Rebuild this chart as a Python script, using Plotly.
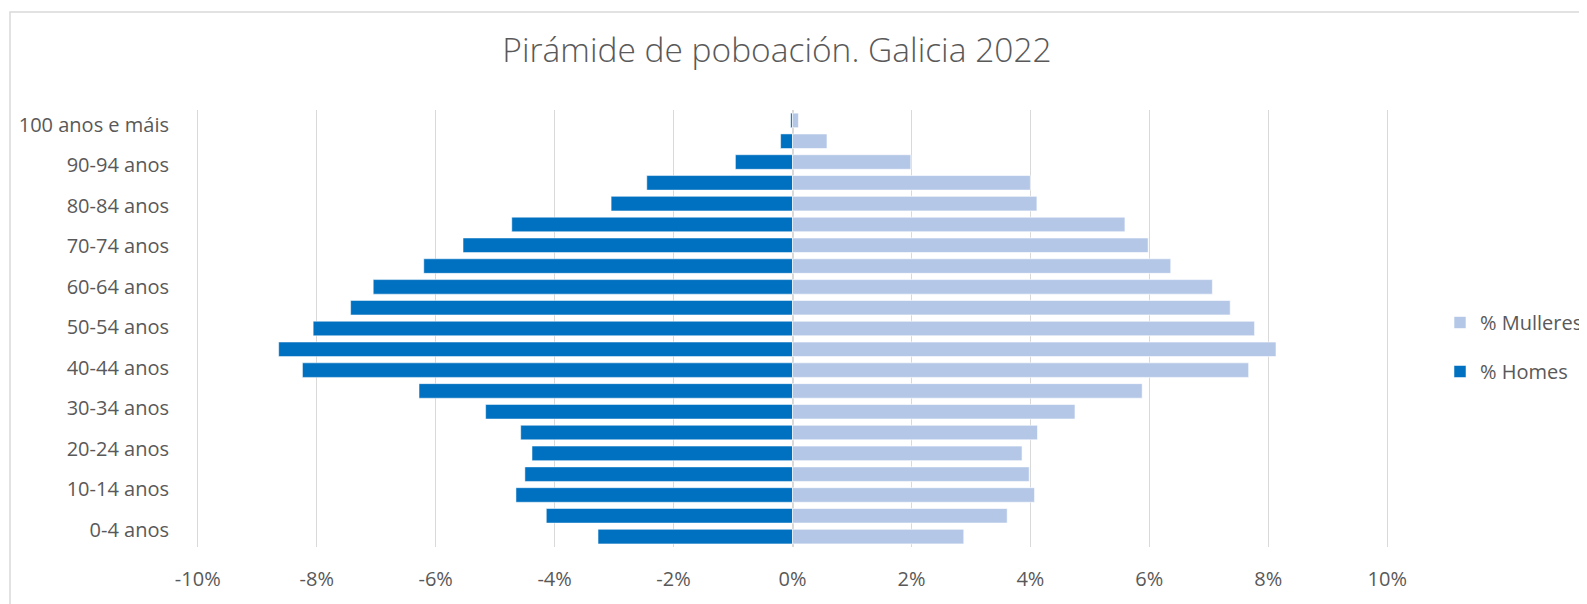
import plotly.graph_objects as go

# Grupos de idade (de abaixo cara arriba)
idades = ["0-4 anos", "5-9 anos", "10-14 anos", "15-19 anos", "20-24 anos",
          "25-29 anos", "30-34 anos", "35-39 anos", "40-44 anos", "45-49 anos",
          "50-54 anos", "55-59 anos", "60-64 anos", "65-69 anos", "70-74 anos",
          "75-79 anos", "80-84 anos", "85-89 anos", "90-94 anos", "95-99 anos",
          "100 anos e máis"]

# % sobre o total de cada sexo
homes = [3.27, 4.14, 4.65, 4.50, 4.38, 4.57, 5.16, 6.28, 8.24, 8.64, 8.06,
         7.43, 7.05, 6.20, 5.54, 4.72, 3.05, 2.45, 0.96, 0.20, 0.03]
mulleres = [2.88, 3.61, 4.07, 3.98, 3.86, 4.12, 4.75, 5.88, 7.67, 8.13, 7.77,
            7.36, 7.06, 6.36, 5.98, 5.59, 4.11, 4.00, 1.99, 0.58, 0.10]

ticks_x = [-10, -8, -6, -4, -2, 0, 2, 4, 6, 8, 10]
etiquetas_x = [f"{v}%" for v in ticks_x]

GRIS = "#595959"
GRELLA = "#d9d9d9"
FONTE = "Open Sans"

# o body da páxina engade 8px de marxe; compénsase aquí
OFF = 8
W, H = 1587, 604
L, R, T, B = 196 - OFF, W - (1389 - OFF), 110 - OFF, H - (547 - OFF)
PW, PH = W - L - R, H - T - B

fig = go.Figure()

fig.add_trace(go.Bar(
    y=idades,
    x=[-v for v in homes],
    orientation="h",
    name="% Homes",
    legendrank=2,
    legendgroup="h",
    marker=dict(color="#0070C0", line=dict(color="rgba(255,255,255,0.5)", width=1)),
    customdata=homes,
    hovertemplate="%{y}: %{customdata}%<extra>% Homes</extra>",
))
fig.add_trace(go.Bar(
    y=idades,
    x=mulleres,
    orientation="h",
    name="% Mulleres",
    legendrank=1,
    legendgroup="m",
    marker=dict(color="#B4C7E7", line=dict(color="rgba(255,255,255,0.6)", width=1)),
    hovertemplate="%{y}: %{x}%<extra>% Mulleres</extra>",
))

# etiquetas do eixo vertical (unha de cada dúas), nun eixo superposto
# cun rango algo distinto, como no Excel orixinal
pos_etiquetas = list(range(0, len(idades), 2))
fig.add_trace(go.Scatter(
    x=[0] * len(pos_etiquetas),
    y=pos_etiquetas,
    yaxis="y2",
    mode="markers",
    marker=dict(opacity=0),
    showlegend=False,
    hoverinfo="skip",
))

fig.update_layout(
    width=W,
    height=H,
    paper_bgcolor="white",
    plot_bgcolor="white",
    barmode="overlay",
    bargap=0.3,
    margin=dict(l=L, r=R, t=T, b=B),
    font=dict(family=FONTE, color=GRIS, size=20),
    title=dict(
        text="Pirámide de poboación. Galicia 2022",
        x=(777 - OFF) / W, xref="container", xanchor="center",
        y=1 - (50 - OFF) / H, yref="container", yanchor="middle",
        font=dict(family=FONTE, size=33.5, color=GRIS, weight=300),
    ),
    xaxis=dict(
        range=[-10.03, 10.03],
        tickvals=ticks_x,
        ticktext=etiquetas_x,
        showgrid=True,
        gridcolor=GRELLA,
        gridwidth=1.3,
        zeroline=True,
        zerolinecolor=GRELLA,
        zerolinewidth=1.5,
        showline=False,
        ticks="",
        ticklabelstandoff=18,
        tickfont=dict(size=20, color=GRIS),
        fixedrange=True,
    ),
    yaxis=dict(
        type="category",
        categoryorder="array",
        categoryarray=idades,
        range=[-0.5, len(idades) - 0.5],
        showticklabels=False,
        showgrid=False,
        ticks="",
        fixedrange=True,
    ),
    yaxis2=dict(
        overlaying="y",
        side="left",
        type="linear",
        range=[-0.84, 20.74],
        tickvals=pos_etiquetas,
        ticktext=[idades[i] for i in pos_etiquetas],
        showgrid=False,
        zeroline=False,
        showline=False,
        ticks="",
        ticklabelstandoff=26,
        tickfont=dict(size=20, color=GRIS),
        fixedrange=True,
    ),
    legend=dict(
        xref="container", yref="container",
        x=(1440 - OFF) / W, y=1 - (347 - OFF) / H,
        xanchor="left", yanchor="middle",
        tracegroupgap=20,
        font=dict(size=20, color=GRIS),
        bgcolor="rgba(0,0,0,0)",
    ),
    showlegend=True,
)

# marco do gráfico (contorno gris)
fig.add_shape(
    type="rect", xref="paper", yref="paper",
    x0=(10 - 196) / PW, x1=1.3,
    y0=-0.3, y1=(547 - 12) / PH,
    line=dict(color=GRELLA, width=1.5),
    layer="below",
)

fig.write_html("out.html")
